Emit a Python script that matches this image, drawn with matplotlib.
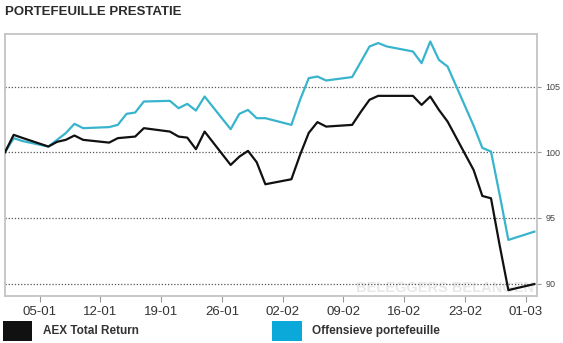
import matplotlib
matplotlib.use("Agg")
import matplotlib.pyplot as plt
import matplotlib.dates as mdates
from matplotlib.patches import Rectangle
import pandas as pd

plt.rcParams['font.family'] = ['Liberation Sans', 'DejaVu Sans']

# dagen (2020) en waarden
dagen = ["2020-01-01", "2020-01-02", "2020-01-03", "2020-01-06", "2020-01-07", "2020-01-08",
         "2020-01-09", "2020-01-10", "2020-01-13", "2020-01-14", "2020-01-15", "2020-01-16",
         "2020-01-17", "2020-01-20", "2020-01-21", "2020-01-22", "2020-01-23", "2020-01-24",
         "2020-01-27", "2020-01-28", "2020-01-29", "2020-01-30", "2020-01-31", "2020-02-03",
         "2020-02-04", "2020-02-05", "2020-02-06", "2020-02-07", "2020-02-10", "2020-02-11",
         "2020-02-12", "2020-02-13", "2020-02-14", "2020-02-17", "2020-02-18", "2020-02-19",
         "2020-02-20", "2020-02-21", "2020-02-24", "2020-02-25", "2020-02-26", "2020-02-27",
         "2020-02-28", "2020-03-02"]

aex = [100.0, 101.32, 101.09, 100.43, 100.79, 100.94, 101.27, 100.94, 100.73, 101.07, 101.13, 101.19,
       101.83, 101.57, 101.19, 101.11, 100.23, 101.57, 99.03, 99.66, 100.10, 99.24, 97.56, 97.94,
       99.8, 101.47, 102.29, 101.95, 102.08, 103.07, 103.99, 104.29, 104.29, 104.29, 103.6, 104.24,
       103.22, 102.33, 98.64, 96.67, 96.49, 92.9, 89.5, 89.96]

offensief = [100.0, 101.07, 100.85, 100.43, 100.94, 101.45, 102.16, 101.83, 101.91, 102.08, 102.92, 103.02,
             103.86, 103.91, 103.35, 103.68, 103.17, 104.24, 101.75, 102.92, 103.22, 102.59, 102.59, 102.08,
             103.99, 105.64, 105.76, 105.46, 105.72, 106.88, 108.05, 108.31, 108.05, 107.67, 106.78, 108.43,
             107.03, 106.52, 102.01, 100.33, 100.05, 96.75, 93.32, 93.95]

y_ticks = [90, 95, 100, 105]
x_ticks = ["2020-01-05", "2020-01-12", "2020-01-19", "2020-01-26", "2020-02-02",
           "2020-02-09", "2020-02-16", "2020-02-23", "2020-03-01"]

x = pd.to_datetime(dagen)
zwart = '#111111'
blauw = '#38b4cd'
grijs = '#444444'

fig = plt.figure(figsize=(5.63, 3.43), dpi=100)
ax = fig.add_axes([5/563, 1-296/343, 532/563, 262/343])

for v in y_ticks:
    ax.axhline(v, color='#555555', lw=0.9, ls=(0, (1, 1.5)), zorder=1)

# watermerk
ax.text(0.995, 0.005, "BELEGGERS BELANGEN", transform=ax.transAxes, color='#e8e8e8',
        fontsize=10.5, fontweight='bold', ha='right', va='bottom', zorder=0)

ax.plot(x, offensief, color=blauw, lw=1.6, zorder=3)
ax.plot(x, aex, color=zwart, lw=1.6, zorder=4)

ax.set_xlim(pd.Timestamp("2020-01-01"), pd.Timestamp("2020-01-01") + pd.Timedelta(days=61.3))
ax.set_ylim(89.05, 109.0)

ax.set_xticks(pd.to_datetime(x_ticks))
ax.xaxis.set_major_formatter(mdates.DateFormatter('%d-%m'))
ax.set_yticks(y_ticks)
ax.yaxis.tick_right()
ax.tick_params(axis='y', length=3, color='#999999', labelsize=6.5, labelcolor=grijs, pad=3)
ax.tick_params(axis='x', length=4, color='#999999', labelsize=9.5, labelcolor='#333333', pad=3)

for s in ax.spines.values():
    s.set_color('#c4c4c4')
    s.set_linewidth(1.3)

fig.text(5/563, 1-12/343, "PORTEFEUILLE PRESTATIE", fontsize=9.5, fontweight='bold',
         color='#2b2b2b', ha='left', va='center')

fig.patches.append(Rectangle((3/563, 1-341/343), 29/563, 20/343, transform=fig.transFigure,
                             facecolor='#111111', edgecolor='none'))
fig.text(43/563, 1-331/343, "AEX Total Return", fontsize=8.5, fontweight='bold',
         color='#333333', ha='left', va='center')
fig.patches.append(Rectangle((272/563, 1-341/343), 30/563, 20/343, transform=fig.transFigure,
                             facecolor='#0aa9d9', edgecolor='none'))
fig.text(312/563, 1-331/343, "Offensieve portefeuille", fontsize=8.5, fontweight='bold',
         color='#333333', ha='left', va='center')

fig.savefig("out.png", dpi=100)
